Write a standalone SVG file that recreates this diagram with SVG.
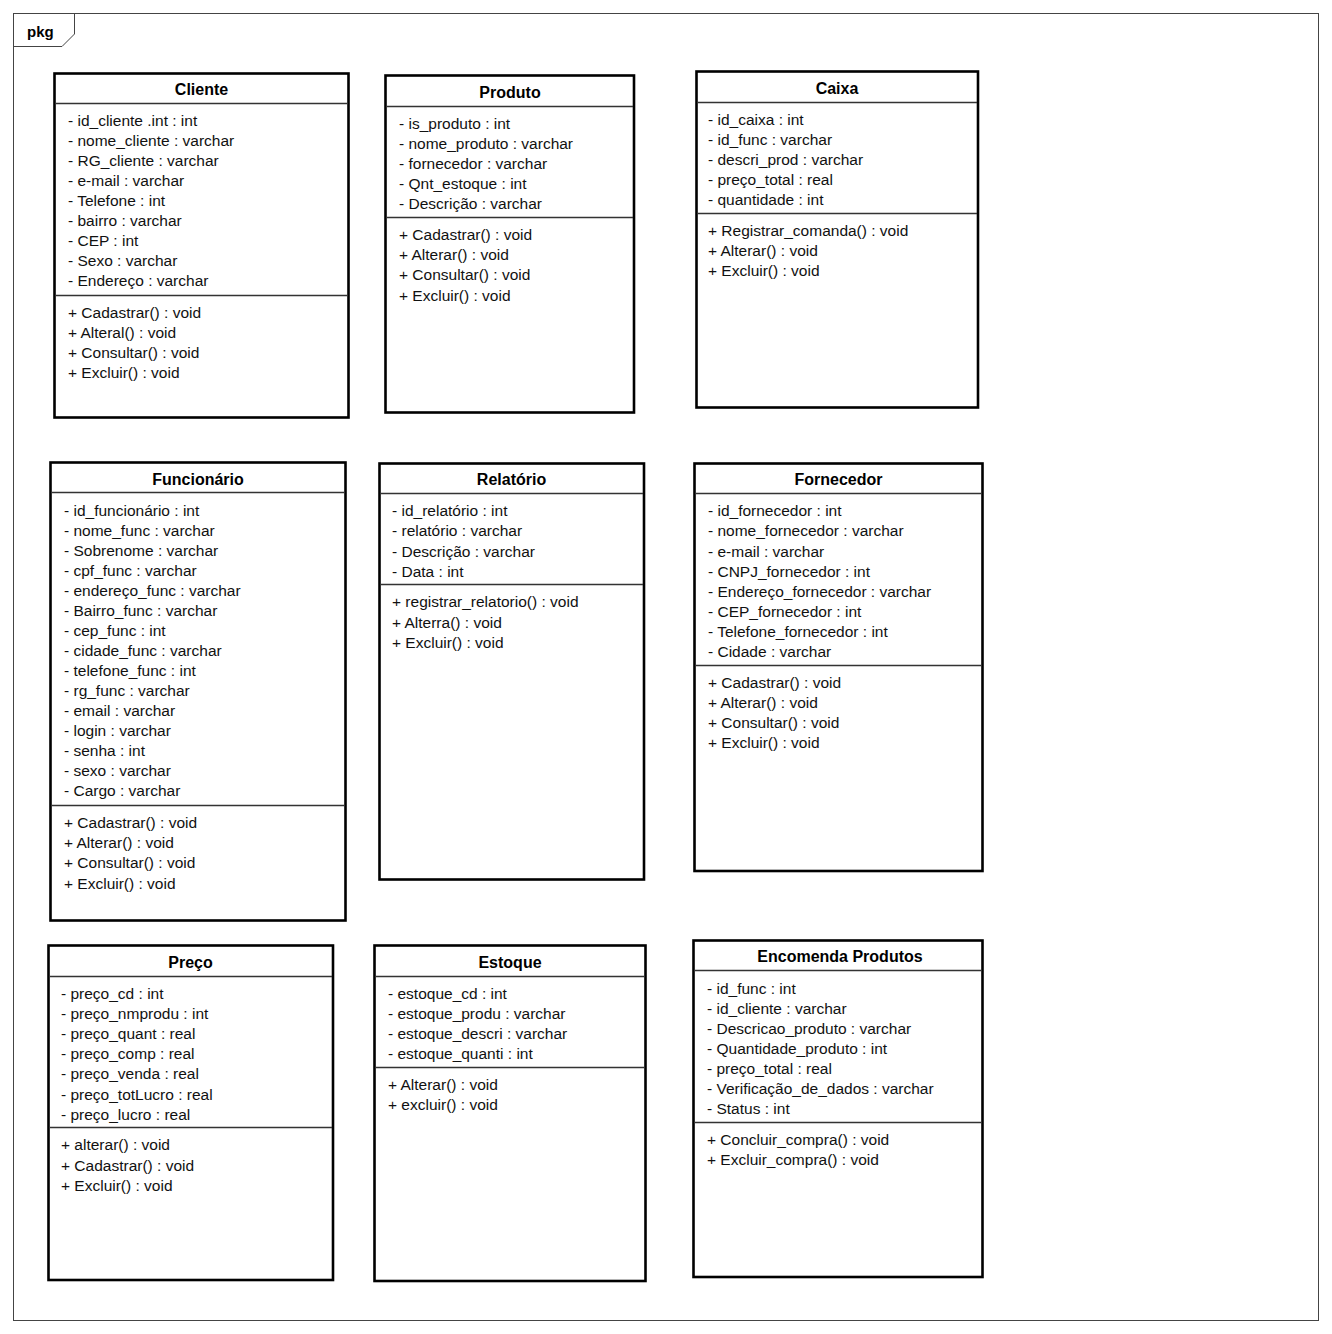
<svg xmlns="http://www.w3.org/2000/svg" width="1332" height="1334" viewBox="0 0 1332 1334">
<style>
.frame{fill:none;stroke:#444;stroke-width:1}
.box{fill:#fff;stroke:#000;stroke-width:2.6}
.sep{stroke:#333;stroke-width:1.4}
.t{font-family:"Liberation Sans",Arial,sans-serif;font-size:16px;font-weight:bold;fill:#000;text-anchor:middle}
.a{font-family:"Liberation Sans",Arial,sans-serif;font-size:15.5px;fill:#111}
.pkg{font-family:"Liberation Sans",Arial,sans-serif;font-size:15px;font-weight:bold;fill:#000}
</style>
<rect width="1332" height="1334" fill="#fff"/>
<g id="package">
<rect class="frame" x="13.5" y="13.5" width="1305" height="1307"/>
<path class="frame" d="M13.5 46.5 H62 L74.5 34 V13.5"/>
<text class="pkg" x="27" y="37">pkg</text>
</g>
<g id="connectors"></g>

<g id="cliente">
<rect class="box" x="54.5" y="73.5" width="294" height="344"/>
<line class="sep" x1="55" y1="103.5" x2="348" y2="103.5"/>
<line class="sep" x1="55" y1="295.5" x2="348" y2="295.5"/>
<text class="t" x="201.5" y="95">Cliente</text>
<text class="a" x="68" y="126">- id_cliente .int : int</text>
<text class="a" x="68" y="146">- nome_cliente : varchar</text>
<text class="a" x="68" y="166">- RG_cliente : varchar</text>
<text class="a" x="68" y="186">- e-mail : varchar</text>
<text class="a" x="68" y="206">- Telefone : int</text>
<text class="a" x="68" y="226">- bairro : varchar</text>
<text class="a" x="68" y="246">- CEP : int</text>
<text class="a" x="68" y="266">- Sexo : varchar</text>
<text class="a" x="68" y="286">- Endereço : varchar</text>
<text class="a" x="68" y="318">+ Cadastrar() : void</text>
<text class="a" x="68" y="338">+ Alteral() : void</text>
<text class="a" x="68" y="358">+ Consultar() : void</text>
<text class="a" x="68" y="378">+ Excluir() : void</text>
</g>

<g id="produto">
<rect class="box" x="385.5" y="75.5" width="248.5" height="337"/>
<line class="sep" x1="386" y1="106.5" x2="633" y2="106.5"/>
<line class="sep" x1="386" y1="217.5" x2="633" y2="217.5"/>
<text class="t" x="510" y="98">Produto</text>
<text class="a" x="399" y="129">- is_produto : int</text>
<text class="a" x="399" y="149">- nome_produto : varchar</text>
<text class="a" x="399" y="169">- fornecedor : varchar</text>
<text class="a" x="399" y="189">- Qnt_estoque : int</text>
<text class="a" x="399" y="209">- Descrição : varchar</text>
<text class="a" x="399" y="240">+ Cadastrar() : void</text>
<text class="a" x="399" y="260">+ Alterar() : void</text>
<text class="a" x="399" y="280">+ Consultar() : void</text>
<text class="a" x="399" y="301">+ Excluir() : void</text>
</g>

<g id="caixa">
<rect class="box" x="696.5" y="71.5" width="281.5" height="336"/>
<line class="sep" x1="697" y1="102.5" x2="977" y2="102.5"/>
<line class="sep" x1="697" y1="213.5" x2="977" y2="213.5"/>
<text class="t" x="837" y="94">Caixa</text>
<text class="a" x="708" y="125">- id_caixa : int</text>
<text class="a" x="708" y="145">- id_func : varchar</text>
<text class="a" x="708" y="165">- descri_prod : varchar</text>
<text class="a" x="708" y="185">- preço_total : real</text>
<text class="a" x="708" y="205">- quantidade : int</text>
<text class="a" x="708" y="236">+ Registrar_comanda() : void</text>
<text class="a" x="708" y="256">+ Alterar() : void</text>
<text class="a" x="708" y="276">+ Excluir() : void</text>
</g>

<g id="funcionario">
<rect class="box" x="50.5" y="462.5" width="295" height="458"/>
<line class="sep" x1="51" y1="492.5" x2="345" y2="492.5"/>
<line class="sep" x1="51" y1="805.5" x2="345" y2="805.5"/>
<text class="t" x="198" y="485">Funcionário</text>
<text class="a" x="64" y="516">- id_funcionário : int</text>
<text class="a" x="64" y="536">- nome_func : varchar</text>
<text class="a" x="64" y="556">- Sobrenome : varchar</text>
<text class="a" x="64" y="576">- cpf_func : varchar</text>
<text class="a" x="64" y="596">- endereço_func : varchar</text>
<text class="a" x="64" y="616">- Bairro_func : varchar</text>
<text class="a" x="64" y="636">- cep_func : int</text>
<text class="a" x="64" y="656">- cidade_func : varchar</text>
<text class="a" x="64" y="676">- telefone_func : int</text>
<text class="a" x="64" y="696">- rg_func : varchar</text>
<text class="a" x="64" y="716">- email : varchar</text>
<text class="a" x="64" y="736">- login : varchar</text>
<text class="a" x="64" y="756">- senha : int</text>
<text class="a" x="64" y="776">- sexo : varchar</text>
<text class="a" x="64" y="796">- Cargo : varchar</text>
<text class="a" x="64" y="828">+ Cadastrar() : void</text>
<text class="a" x="64" y="848">+ Alterar() : void</text>
<text class="a" x="64" y="868">+ Consultar() : void</text>
<text class="a" x="64" y="889">+ Excluir() : void</text>
</g>

<g id="relatorio">
<rect class="box" x="379.5" y="463.5" width="264.5" height="416"/>
<line class="sep" x1="380" y1="493.5" x2="643" y2="493.5"/>
<line class="sep" x1="380" y1="584.5" x2="643" y2="584.5"/>
<text class="t" x="511.5" y="485">Relatório</text>
<text class="a" x="392" y="516">- id_relatório : int</text>
<text class="a" x="392" y="536">- relatório : varchar</text>
<text class="a" x="392" y="557">- Descrição : varchar</text>
<text class="a" x="392" y="577">- Data : int</text>
<text class="a" x="392" y="607">+ registrar_relatorio() : void</text>
<text class="a" x="392" y="628">+ Alterra() : void</text>
<text class="a" x="392" y="648">+ Excluir() : void</text>
</g>

<g id="fornecedor">
<rect class="box" x="694.5" y="463.5" width="288" height="407.5"/>
<line class="sep" x1="695" y1="493.5" x2="982" y2="493.5"/>
<line class="sep" x1="695" y1="665.5" x2="982" y2="665.5"/>
<text class="t" x="838.5" y="485">Fornecedor</text>
<text class="a" x="708" y="516">- id_fornecedor : int</text>
<text class="a" x="708" y="536">- nome_fornecedor : varchar</text>
<text class="a" x="708" y="557">- e-mail : varchar</text>
<text class="a" x="708" y="577">- CNPJ_fornecedor : int</text>
<text class="a" x="708" y="597">- Endereço_fornecedor : varchar</text>
<text class="a" x="708" y="617">- CEP_fornecedor : int</text>
<text class="a" x="708" y="637">- Telefone_fornecedor : int</text>
<text class="a" x="708" y="657">- Cidade : varchar</text>
<text class="a" x="708" y="688">+ Cadastrar() : void</text>
<text class="a" x="708" y="708">+ Alterar() : void</text>
<text class="a" x="708" y="728">+ Consultar() : void</text>
<text class="a" x="708" y="748">+ Excluir() : void</text>
</g>

<g id="preco">
<rect class="box" x="48.5" y="945.5" width="284.5" height="334.5"/>
<line class="sep" x1="49" y1="976.5" x2="332" y2="976.5"/>
<line class="sep" x1="49" y1="1127.5" x2="332" y2="1127.5"/>
<text class="t" x="190.5" y="968">Preço</text>
<text class="a" x="61" y="999">- preço_cd : int</text>
<text class="a" x="61" y="1019">- preço_nmprodu : int</text>
<text class="a" x="61" y="1039">- preço_quant : real</text>
<text class="a" x="61" y="1059">- preço_comp : real</text>
<text class="a" x="61" y="1079">- preço_venda : real</text>
<text class="a" x="61" y="1100">- preço_totLucro : real</text>
<text class="a" x="61" y="1120">- preço_lucro : real</text>
<text class="a" x="61" y="1150">+ alterar() : void</text>
<text class="a" x="61" y="1171">+ Cadastrar() : void</text>
<text class="a" x="61" y="1191">+ Excluir() : void</text>
</g>

<g id="estoque">
<rect class="box" x="374.5" y="945.5" width="271" height="335.5"/>
<line class="sep" x1="375" y1="976.5" x2="645" y2="976.5"/>
<line class="sep" x1="375" y1="1067.5" x2="645" y2="1067.5"/>
<text class="t" x="510" y="968">Estoque</text>
<text class="a" x="388" y="999">- estoque_cd : int</text>
<text class="a" x="388" y="1019">- estoque_produ : varchar</text>
<text class="a" x="388" y="1039">- estoque_descri : varchar</text>
<text class="a" x="388" y="1059">- estoque_quanti : int</text>
<text class="a" x="388" y="1090">+ Alterar() : void</text>
<text class="a" x="388" y="1110">+ excluir() : void</text>
</g>

<g id="encomenda">
<rect class="box" x="693.5" y="940.5" width="289" height="336.5"/>
<line class="sep" x1="694" y1="970.5" x2="982" y2="970.5"/>
<line class="sep" x1="694" y1="1122.5" x2="982" y2="1122.5"/>
<text class="t" x="840" y="962">Encomenda Produtos</text>
<text class="a" x="707" y="994">- id_func : int</text>
<text class="a" x="707" y="1014">- id_cliente : varchar</text>
<text class="a" x="707" y="1034">- Descricao_produto : varchar</text>
<text class="a" x="707" y="1054">- Quantidade_produto : int</text>
<text class="a" x="707" y="1074">- preço_total : real</text>
<text class="a" x="707" y="1094">- Verificação_de_dados : varchar</text>
<text class="a" x="707" y="1114">- Status : int</text>
<text class="a" x="707" y="1145">+ Concluir_compra() : void</text>
<text class="a" x="707" y="1165">+ Excluir_compra() : void</text>
</g>
</svg>
